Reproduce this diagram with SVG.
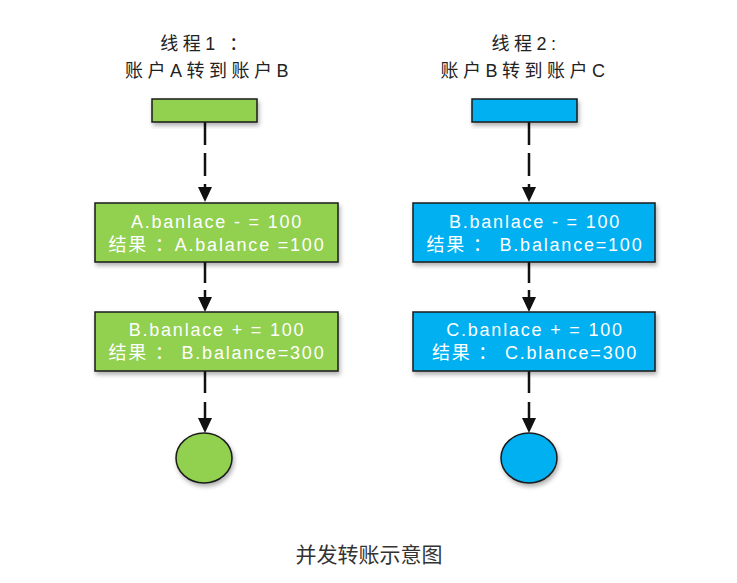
<svg xmlns="http://www.w3.org/2000/svg" width="737" height="583" viewBox="0 0 737 583">
<defs>
<filter id="sh" x="-20%" y="-20%" width="140%" height="150%">
<feDropShadow dx="1.5" dy="3" stdDeviation="2" flood-color="#000" flood-opacity="0.3"/>
</filter>
<marker id="arr" markerUnits="userSpaceOnUse" viewBox="0 -7 15 14" refX="0" refY="0" markerWidth="15" markerHeight="14" orient="auto">
<path d="M0,-7 L15,0 L0,7 z" fill="#111"/>
</marker>
</defs>
<style>
.title{font-family:"Liberation Sans","Noto Sans CJK SC",sans-serif;font-size:18px;fill:#222;text-anchor:middle;letter-spacing:4.5px}
.lbl{font-family:"Liberation Sans","Noto Sans CJK SC",sans-serif;font-size:18px;fill:#fff;text-anchor:middle;letter-spacing:1.8px}
.cap{font-family:"Noto Sans CJK SC",sans-serif;font-size:21px;fill:#333;text-anchor:middle}
.g{fill:#92D050;stroke:#1a1a1a;stroke-width:1.5}
.b{fill:#00B0F0;stroke:#1a1a1a;stroke-width:1.5}
.c{fill:none;stroke:#111;stroke-width:2.5;marker-end:url(#arr)}
</style>
<rect width="737" height="583" fill="#fff"/>
<g id="title1">
<text class="title" x="206" y="50">线程1 ：</text>
<text class="title" x="209" y="77">账户A转到账户B</text>
</g>
<g id="title2">
<text class="title" x="526" y="50">线程2:</text>
<text class="title" x="525" y="77">账户B转到账户C</text>
</g>
<g id="connectors">
<path class="c" d="M205,122 V187" stroke-dasharray="23 8"/>
<path class="c" d="M205,262 V297" stroke-dasharray="21 7"/>
<path class="c" d="M205,371 V418" stroke-dasharray="22 9"/>
<path class="c" d="M529,122 V187" stroke-dasharray="23 8"/>
<path class="c" d="M529,262 V297" stroke-dasharray="21 7"/>
<path class="c" d="M529,371 V418" stroke-dasharray="22 9"/>
</g>
<g id="start1"><rect class="g" x="152" y="99" width="105" height="23" filter="url(#sh)"/></g>
<g id="start2"><rect class="b" x="472" y="99" width="105" height="23" filter="url(#sh)"/></g>
<g id="a1">
<rect class="g" x="95" y="203" width="243" height="59" filter="url(#sh)"/>
<text class="lbl" x="217" y="228">A.banlace - = 100</text>
<text class="lbl" x="217" y="251">结果 ：A.balance =100</text>
</g>
<g id="a2">
<rect class="g" x="95" y="312" width="243" height="59" filter="url(#sh)"/>
<text class="lbl" x="217" y="336">B.banlace + = 100</text>
<text class="lbl" x="217" y="359">结果 ： B.balance=300</text>
</g>
<g id="b1">
<rect class="b" x="413" y="203" width="242" height="59" filter="url(#sh)"/>
<text class="lbl" x="535" y="228">B.banlace - = 100</text>
<text class="lbl" x="535" y="251">结果 ： B.balance=100</text>
</g>
<g id="b2">
<rect class="b" x="413" y="312" width="242" height="59" filter="url(#sh)"/>
<text class="lbl" x="535" y="336">C.banlace + = 100</text>
<text class="lbl" x="535" y="359">结果 ： C.blance=300</text>
</g>
<g id="end1"><ellipse class="g" cx="204" cy="458" rx="28" ry="25" filter="url(#sh)"/></g>
<g id="end2"><ellipse class="b" cx="529" cy="458" rx="28" ry="25" filter="url(#sh)"/></g>
<g id="caption"><text class="cap" x="369" y="562">并发转账示意图</text></g>
</svg>
